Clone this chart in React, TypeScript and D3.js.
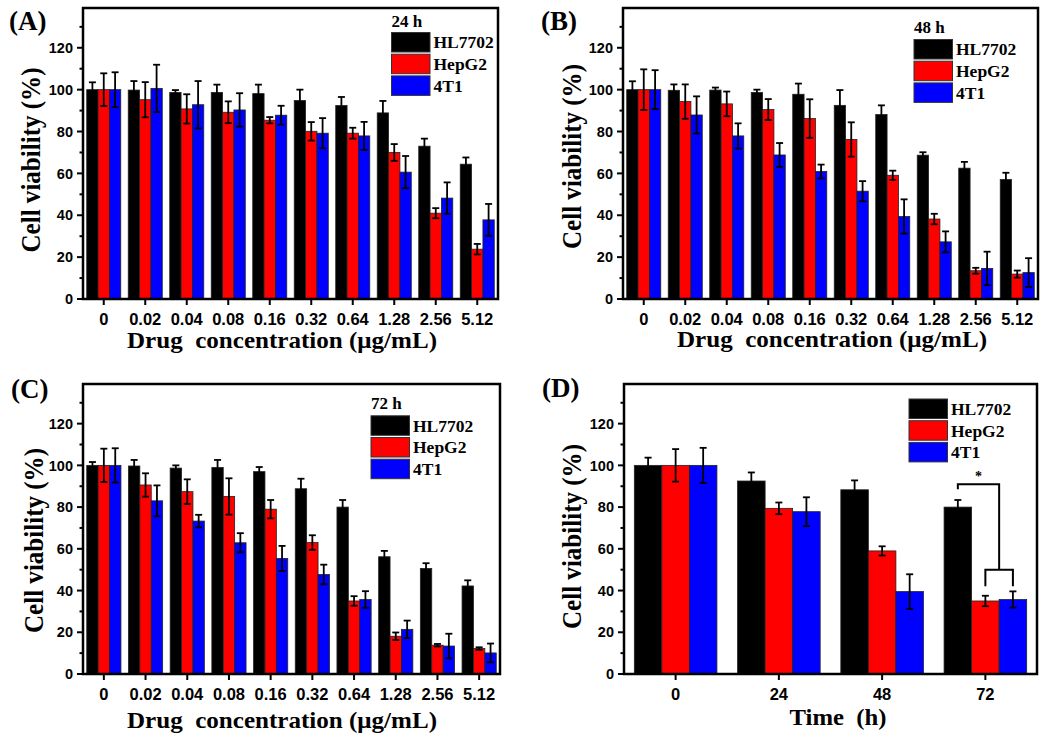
import React from "react";
import { scaleBand, scaleLinear, range } from "d3";

// categories / tick labels
const concLabels = ["0", "0.02", "0.04", "0.08", "0.16", "0.32", "0.64", "1.28", "2.56", "5.12"];
const timeLabels = ["0", "24", "48", "72"];
const seriesNames = ["HL7702", "HepG2", "4T1"];
const seriesColors = ["#000000", "#ff0000", "#0000ff"];
const yTicks = [0, 20, 40, 60, 80, 100, 120];

// (A) 24 h
const hl24 = [100, 99.8, 98.7, 98.7, 98.1, 94.8, 92.4, 88.9, 73.0, 64.4];
const hl24Err = [3.5, 4.3, 1.1, 3.7, 4.3, 5.2, 4.1, 5.7, 3.6, 3.2];
const hep24 = [100, 95.2, 90.8, 89.2, 85.4, 80.1, 79.2, 70.0, 41.0, 23.8];
const hep24Err = [7.8, 8.4, 7.0, 5.2, 1.5, 4.4, 2.6, 4.0, 2.4, 2.5];
const t1_24 = [100, 100.6, 92.8, 90.3, 87.8, 79.2, 77.9, 60.6, 48.2, 37.8];
const t1_24Err = [8.3, 11.3, 11.3, 8.0, 4.5, 7.2, 6.7, 7.7, 7.5, 7.6];

// (B) 48 h
const hl48 = [100, 99.7, 99.8, 98.7, 97.8, 92.5, 88.1, 68.7, 62.5, 57.1];
const hl48Err = [4.0, 2.8, 1.2, 1.3, 5.1, 7.3, 4.4, 1.4, 3.0, 3.2];
const hep48 = [100, 94.3, 93.2, 90.5, 86.2, 76.2, 59.1, 38.2, 13.5, 11.9];
const hep48Err = [9.7, 8.2, 5.9, 5.0, 9.2, 8.2, 2.2, 2.5, 1.4, 1.7];
const t1_48 = [100, 87.9, 77.9, 68.8, 60.9, 51.5, 39.4, 27.3, 14.6, 12.6];
const t1_48Err = [9.3, 8.9, 6.0, 5.7, 3.3, 4.8, 8.2, 5.0, 8.0, 6.9];

// (C) 72 h
const hl72 = [100, 99.7, 98.7, 99.0, 97.0, 88.8, 80.0, 56.2, 50.6, 42.2];
const hl72Err = [1.6, 2.9, 1.3, 3.6, 2.2, 4.8, 3.4, 2.8, 2.5, 2.7];
const hep72 = [100, 90.6, 87.4, 85.1, 79.0, 63.0, 35.0, 18.1, 13.8, 12.2];
const hep72Err = [8.0, 5.6, 5.9, 8.7, 4.4, 3.5, 2.3, 1.8, 0.6, 0.6];
const t1_72 = [100, 83.0, 73.3, 62.9, 55.4, 47.7, 35.7, 21.4, 13.4, 10.1];
const t1_72Err = [8.2, 7.4, 3.0, 4.6, 6.0, 4.7, 4.0, 4.2, 5.9, 4.5];

// (D) over time
const hlTime = [100, 92.5, 88.3, 80.0];
const hlTimeErr = [3.7, 4.1, 4.5, 3.4];
const hepTime = [100, 79.4, 59.0, 35.0];
const hepTimeErr = [7.8, 2.8, 2.2, 2.5];
const t1Time = [100, 77.8, 39.5, 35.7];
const t1TimeErr = [8.4, 6.9, 8.3, 3.9];

// significance bracket in (D), in data units
const sigGroup = "72";
const sigTop = 91;
const sigLeftEnd = 88.5;
const sigMid = 50;
const sigFootEnd = 42;
const sigLabel = "*";

const serif = "'Liberation Serif', 'Times New Roman', serif";
const sans = "'Liberation Sans', Arial, sans-serif";

type PanelProps = {
  left: number; top: number; right: number; bottom: number;
  cats: string[];
  values: number[][];
  errors: number[][];
  padInner: number; padOuter: number;
  label: string; labelX: number; labelY: number;
  legendTitle?: string; legendX: number; legendY: number; legendTitleY?: number;
  xTitle: string; xTitleX: number; xTitleY: number; xTitleLen: number;
  yTitleX: number; yTitleY: number;
  bracket?: boolean;
};

const Panel = (p: PanelProps) => {
  const x0 = scaleBand().domain(p.cats).range([p.left, p.right]).paddingInner(p.padInner).paddingOuter(p.padOuter);
  const x1 = scaleBand().domain(seriesNames).range([0, x0.bandwidth()]);
  const y = scaleLinear().domain([0, 139]).range([p.bottom, p.top]);
  const cap = 3.5;
  const minor = range(10, 139, 20);

  let bracket = null;
  if (p.bracket) {
    const gx = x0(sigGroup)!;
    const bw = x1.bandwidth();
    const cBlack = gx + x1("HL7702")! + bw / 2;
    const cRed = gx + x1("HepG2")! + bw / 2;
    const cBlue = gx + x1("4T1")! + bw / 2;
    const split = gx + x1("4T1")!;
    bracket = (
      <g fill="none" stroke="#000" strokeWidth={2}>
        <path d={`M${cBlack},${y(sigLeftEnd)}V${y(sigTop)}H${split}V${y(sigMid)}`} />
        <path d={`M${cRed},${y(sigFootEnd)}V${y(sigMid)}H${cBlue}V${y(sigFootEnd)}`} />
        <text x={(cBlack + split) / 2} y={y(sigTop) - 3} textAnchor="middle" stroke="none" fill="#000"
          fontFamily={serif} fontWeight="bold" fontSize={14}>{sigLabel}</text>
      </g>
    );
  }

  return (
    <g>
      {/* bars */}
      {p.cats.map((c, i) => (
        <g key={c}>
          {seriesNames.map((s, k) => (
            <rect key={s} x={x0(c)! + x1(s)!} y={y(p.values[k][i])} width={x1.bandwidth()}
              height={y(0) - y(p.values[k][i])} fill={seriesColors[k]} stroke="#222" strokeWidth={0.8} />
          ))}
        </g>
      ))}
      {/* error bars */}
      {p.cats.map((c, i) => (
        <g key={"e" + c} stroke="#000" strokeWidth={1.8}>
          {seriesNames.map((s, k) => {
            const cx = x0(c)! + x1(s)! + x1.bandwidth() / 2;
            const v = p.values[k][i];
            const e = p.errors[k][i];
            return (
              <g key={s}>
                <line x1={cx} x2={cx} y1={y(v - e)} y2={y(v + e)} />
                <line x1={cx - cap} x2={cx + cap} y1={y(v + e)} y2={y(v + e)} />
                <line x1={cx - cap} x2={cx + cap} y1={y(v - e)} y2={y(v - e)} />
              </g>
            );
          })}
        </g>
      ))}
      {bracket}
      {/* frame */}
      <rect x={p.left} y={p.top} width={p.right - p.left} height={p.bottom - p.top} fill="none" stroke="#000" strokeWidth={2.5} />
      {/* y axis */}
      {yTicks.map((t) => (
        <g key={t}>
          <line x1={p.left - 6} x2={p.left} y1={y(t)} y2={y(t)} stroke="#000" strokeWidth={2} />
          <text x={p.left - 10} y={y(t)} dy="0.36em" textAnchor="end" fontFamily={sans} fontWeight="bold" fontSize={14.5}>{t}</text>
        </g>
      ))}
      {minor.map((t) => (
        <line key={"m" + t} x1={p.left - 3.5} x2={p.left} y1={y(t)} y2={y(t)} stroke="#000" strokeWidth={2} />
      ))}
      {/* x axis */}
      {p.cats.map((c) => {
        const cx = x0(c)! + x0.bandwidth() / 2;
        return (
          <g key={"x" + c}>
            <line x1={cx} x2={cx} y1={p.bottom} y2={p.bottom + 6} stroke="#000" strokeWidth={2} />
            <text x={cx} y={p.bottom + 26} textAnchor="middle" fontFamily={sans} fontWeight="bold" fontSize={16.5}>{c}</text>
          </g>
        );
      })}
      {/* titles */}
      <text x={p.xTitleX} y={p.xTitleY} textAnchor="middle" fontFamily={serif} fontWeight="bold" fontSize={24}
        textLength={p.xTitleLen} lengthAdjust="spacingAndGlyphs" style={{ whiteSpace: "pre" }}>{p.xTitle}</text>
      <text transform={`translate(${p.yTitleX},${p.yTitleY}) rotate(-90)`} textAnchor="middle" fontFamily={serif}
        fontWeight="bold" fontSize={27} textLength={185} lengthAdjust="spacingAndGlyphs">Cell viability (%)</text>
      <text x={p.labelX} y={p.labelY} fontFamily={serif} fontWeight="bold" fontSize={27}>{p.label}</text>
      {/* legend */}
      {p.legendTitle && (
        <text x={p.legendX} y={p.legendTitleY} fontFamily={serif} fontWeight="bold" fontSize={17}>{p.legendTitle}</text>
      )}
      {seriesNames.map((s, k) => (
        <g key={"l" + s}>
          <rect x={p.legendX} y={p.legendY + k * 21.7} width={38.5} height={19.5} fill={seriesColors[k]} stroke="#333" strokeWidth={1} />
          <text x={p.legendX + 42} y={p.legendY + k * 21.7 + 9.75} dy="0.35em" fontFamily={serif} fontWeight="bold" fontSize={17.5}>{s}</text>
        </g>
      ))}
    </g>
  );
};

export default function App() {
  return (
    <div style={{ position: "absolute", left: 0, top: 0 }}>
      <svg width={1040} height={738} style={{ display: "block", background: "#fff" }}>
        <Panel left={83} top={8} right={498} bottom={299} cats={concLabels}
          values={[hl24, hep24, t1_24]} errors={[hl24Err, hep24Err, t1_24Err]}
          padInner={0.18} padOuter={0.09} label="(A)" labelX={9} labelY={30}
          legendTitle="24 h" legendX={391.5} legendY={32.5} legendTitleY={27}
          xTitle="Drug  concentration (μg/mL)" xTitleX={282} xTitleY={348} xTitleLen={310}
          yTitleX={39.5} yTitleY={160} />
        <Panel left={623} top={8} right={1038} bottom={299} cats={concLabels}
          values={[hl48, hep48, t1_48]} errors={[hl48Err, hep48Err, t1_48Err]}
          padInner={0.18} padOuter={0.09} label="(B)" labelX={541} labelY={30}
          legendTitle="48 h" legendX={914} legendY={39.5} legendTitleY={32.5}
          xTitle="Drug  concentration (μg/mL)" xTitleX={832} xTitleY={347} xTitleLen={310}
          yTitleX={581} yTitleY={156.5} />
        <Panel left={83} top={384} right={500} bottom={674} cats={concLabels}
          values={[hl72, hep72, t1_72]} errors={[hl72Err, hep72Err, t1_72Err]}
          padInner={0.18} padOuter={0.09} label="(C)" labelX={11} labelY={398}
          legendTitle="72 h" legendX={371} legendY={415.8} legendTitleY={408.5}
          xTitle="Drug  concentration (μg/mL)" xTitleX={282} xTitleY={728} xTitleLen={310}
          yTitleX={43} yTitleY={540.5} />
        <Panel left={624} top={384} right={1037} bottom={674} cats={timeLabels}
          values={[hlTime, hepTime, t1Time]} errors={[hlTimeErr, hepTimeErr, t1TimeErr]}
          padInner={0.2} padOuter={0.1} label="(D)" labelX={542} labelY={397}
          legendX={909} legendY={399}
          xTitle="Time  (h)" xTitleX={838} xTitleY={725} xTitleLen={97}
          yTitleX={581} yTitleY={536.5} bracket />
      </svg>
    </div>
  );
}
